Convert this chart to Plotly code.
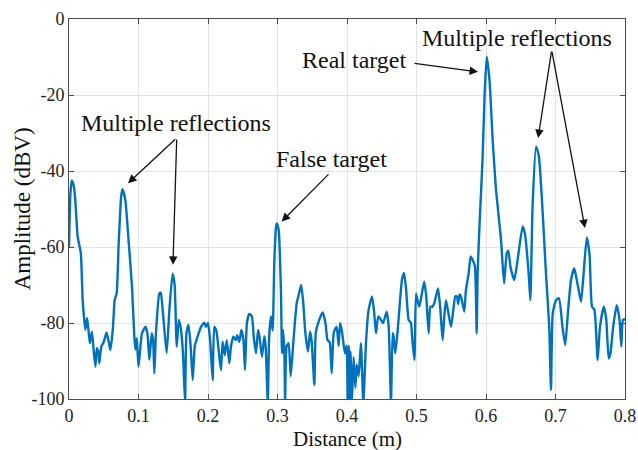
import plotly.graph_objects as go

# Range profile: distance (m) vs. amplitude (dBV)
distance = [
    0.000, 0.002, 0.004, 0.007, 0.009, 0.0125, 0.017, 0.0197, 0.0235, 0.026,
    0.028, 0.030, 0.033, 0.035, 0.038, 0.040, 0.042, 0.0436, 0.0465, 0.050,
    0.054, 0.057, 0.0595, 0.063, 0.0657, 0.0686, 0.0715, 0.075, 0.077, 0.081,
    0.086, 0.0906, 0.094, 0.0955, 0.0975, 0.100, 0.105, 0.110, 0.113, 0.1156,
    0.119, 0.121, 0.1228, 0.125, 0.130, 0.132, 0.1348, 0.1405, 0.1444, 0.149,
    0.152, 0.155, 0.158, 0.161, 0.164, 0.167, 0.169, 0.172, 0.175, 0.178,
    0.181, 0.185, 0.190, 0.1947, 0.197, 0.200, 0.203, 0.2067, 0.209, 0.212,
    0.2163, 0.2187, 0.221, 0.224, 0.227, 0.2307, 0.233, 0.2364, 0.240, 0.242,
    0.245, 0.248, 0.251, 0.2532, 0.256, 0.2594, 0.263, 0.266, 0.269, 0.272,
    0.274, 0.2777, 0.281, 0.283, 0.286, 0.288, 0.2906, 0.293, 0.2955, 0.298,
    0.299, 0.3017, 0.305, 0.3065, 0.308, 0.310, 0.311, 0.313, 0.316, 0.319,
    0.323, 0.3276, 0.330, 0.334, 0.337, 0.340, 0.344, 0.3468, 0.349, 0.353,
    0.355, 0.360, 0.365, 0.369, 0.372, 0.375, 0.378, 0.381, 0.385, 0.388,
    0.390, 0.393, 0.397, 0.3995, 0.401, 0.4025, 0.4036, 0.405, 0.407, 0.4095,
    0.412, 0.414, 0.4168, 0.420, 0.4235, 0.4273, 0.431, 0.436, 0.439, 0.4417,
    0.445, 0.449, 0.452, 0.457, 0.460, 0.4633, 0.4657, 0.467, 0.4695, 0.473,
    0.476, 0.479, 0.482, 0.485, 0.4887, 0.492, 0.494, 0.497, 0.4993, 0.502,
    0.504, 0.507, 0.511, 0.514, 0.5175, 0.520, 0.523, 0.526, 0.528, 0.531,
    0.534, 0.5376, 0.540, 0.5424, 0.546, 0.5496, 0.553, 0.5558, 0.558, 0.560,
    0.562, 0.564, 0.5688, 0.571, 0.575, 0.578, 0.581, 0.584, 0.5866, 0.588,
    0.591, 0.595, 0.598, 0.601, 0.605, 0.6096, 0.6144, 0.6216, 0.626, 0.6298,
    0.632, 0.6355, 0.6407, 0.645, 0.6527, 0.656, 0.6614, 0.6638, 0.667, 0.672,
    0.676, 0.6816, 0.6863, 0.691, 0.6935, 0.696, 0.7007, 0.705, 0.710, 0.714,
    0.718, 0.7223, 0.727, 0.732, 0.7367, 0.740, 0.745, 0.749, 0.7525, 0.756,
    0.7606, 0.764, 0.7695, 0.773, 0.7765, 0.779, 0.783, 0.788, 0.792, 0.7947,
    0.797, 0.800,
]
amplitude = [
    -60, -46, -42.5, -44, -47.6, -57.3, -61.6, -74, -81.8, -78.7,
    -81.8, -85.3, -82.3, -86.2, -91.5, -86.6, -87.5, -90.6, -86.2, -85,
    -82.5, -84.9, -87.1, -81.8, -74, -72.2, -59, -46.8, -44.8, -47.6,
    -59, -70.4, -83.6, -87, -84, -91.5, -82.7, -81, -83, -89.7,
    -82.7, -84.5, -93.2, -83, -72.2, -72, -76.6, -87.9, -76.6, -67,
    -70, -86.2, -79.2, -81.5, -88, -101, -82.7, -80.5, -86, -95,
    -86, -83.6, -81, -79.9, -81, -80, -84.5, -95, -81, -82,
    -88.9, -92.4, -84.9, -88.5, -84.5, -90.6, -86.2, -83.6, -84.5, -83.2,
    -85, -81.8, -84.5, -92.4, -80, -77.6, -78.2, -84, -88, -81.8,
    -83.5, -88.9, -83.5, -86.2, -101, -83.6, -78.3, -82, -63.4, -54.6,
    -53.8, -55.5, -72.2, -88, -81.8, -88.5, -101, -86.2, -85.3, -94,
    -84.5, -74.8, -73, -70, -74.5, -82.5, -87.5, -82.3, -84.5, -96.3,
    -82.7, -79.2, -77.2, -80, -84.5, -85, -93.2, -82.5, -81, -86,
    -80, -82.5, -88, -86, -101, -86, -101, -87.5, -101, -89,
    -97, -91, -94, -85.3, -101, -85.3, -76.6, -73, -77, -82.7,
    -78.3, -79.2, -80, -77, -81, -101, -82.7, -83.5, -88, -81.8,
    -74.8, -68.7, -66.8, -71, -79.2, -80, -84.5, -89.7, -72.2, -74.5,
    -75.7, -73, -69.1, -73, -82.7, -75.7, -75.7, -74.5, -73, -70.9,
    -75.7, -84.5, -78.3, -74, -77.5, -81, -76.5, -73, -73, -75,
    -72.5, -73, -77, -71.5, -67, -62.5, -63.5, -65, -82.7, -66.5,
    -52.9, -37, -20, -9.9, -16, -31.8, -45, -58, -69.6, -61.7,
    -61, -65.5, -68.7, -64, -54.6, -56.5, -67, -74, -49.4, -33.6,
    -36, -51.1, -67, -81, -97.6, -77.5, -74, -73.5, -81, -85.8,
    -77, -68.7, -65.6, -70, -74.4, -68, -57.5, -62, -75.7, -76.5,
    -89.7, -81, -75.7, -79, -89.3, -88, -81, -75.3, -79, -86.2,
    -79.2, -79,
]

x_ticks = [0, 0.1, 0.2, 0.3, 0.4, 0.5, 0.6, 0.7, 0.8]
x_tick_labels = ["0", "0.1", "0.2", "0.3", "0.4", "0.5", "0.6", "0.7", "0.8"]
y_ticks = [-100, -80, -60, -40, -20, 0]
y_tick_labels = ["-100", "-80", "-60", "-40", "-20", "0"]

SERIF = "Liberation Serif, Times New Roman, serif"
LINE_BLUE = "#0072BD"
FRAME = "#4d4d4d"
TEXT = "#111111"

fig = go.Figure()
fig.add_trace(go.Scatter(
    x=distance, y=amplitude, mode="lines",
    line=dict(color=LINE_BLUE, width=2.4, shape="spline", smoothing=0.5),
    showlegend=False, hoverinfo="skip",
))

# Callout labels
labels = [
    ("Multiple reflections", 0.154, -27.4),
    ("False target", 0.377, -36.8),
    ("Real target", 0.4115, -10.8),
    ("Multiple reflections", 0.645, -5.0),
]
for text, lx, ly in labels:
    fig.add_annotation(x=lx, y=ly, text=text, showarrow=False,
                       font=dict(family=SERIF, size=24, color=TEXT))

# Arrows: (tail_x, tail_y, head_x, head_y)
arrows = [
    (0.155, -31.3, 0.0849, -43.2),
    (0.155, -31.3, 0.1496, -64.7),
    (0.3755, -40.5, 0.306, -53.3),
    (0.495, -11.6, 0.5885, -13.9),
    (0.6945, -8.2, 0.675, -31.3),
    (0.6945, -8.2, 0.7424, -55.0),
]
for tx, ty, hx, hy in arrows:
    fig.add_annotation(x=hx, y=hy, ax=tx, ay=ty, axref="x", ayref="y",
                       xref="x", yref="y", text="", showarrow=True,
                       arrowhead=2, arrowsize=1.3, arrowwidth=1.3,
                       arrowcolor=TEXT)

# Axis titles placed in paper coordinates
fig.add_annotation(text="Distance (m)", xref="paper", yref="paper",
                   x=0.5, y=-0.104, xanchor="center", yanchor="middle",
                   showarrow=False, font=dict(family=SERIF, size=21, color=TEXT))
fig.add_annotation(text="Amplitude (dBV)", xref="paper", yref="paper",
                   x=-0.084, y=0.5, xanchor="center", yanchor="middle",
                   textangle=-90, showarrow=False,
                   font=dict(family=SERIF, size=23, color=TEXT))

axis_common = dict(
    showgrid=True, gridcolor="#e3e3e3", gridwidth=1,
    showline=True, linecolor=FRAME, linewidth=1, mirror="ticks",
    ticks="inside", ticklen=5, tickcolor=FRAME, zeroline=False,
    automargin=False,
    tickfont=dict(family=SERIF, size=18, color="#222222"),
)

fig.update_xaxes(range=[0, 0.8], tickvals=x_ticks, ticktext=x_tick_labels,
                 **axis_common)
fig.update_yaxes(range=[-100, 0], tickvals=y_ticks, ticktext=y_tick_labels,
                 **axis_common)

fig.update_layout(
    width=638, height=450,
    margin=dict(l=69, r=13, t=19, b=51),
    paper_bgcolor="white", plot_bgcolor="white",
)

fig.write_html("out.html")
